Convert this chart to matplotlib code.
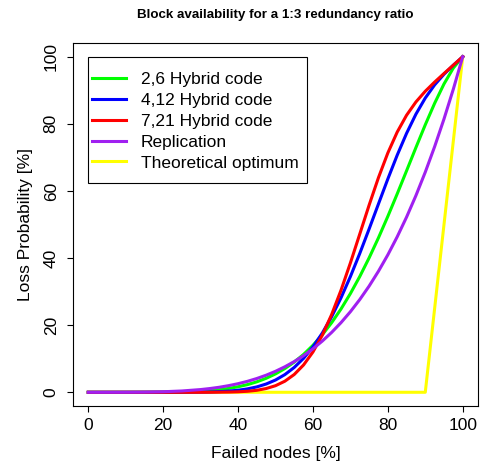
import matplotlib
matplotlib.use("Agg")
import matplotlib.pyplot as plt
from matplotlib.patches import Rectangle
from matplotlib.lines import Line2D

plt.rcParams['font.family'] = ['Liberation Sans', 'DejaVu Sans']

# failed nodes [%]
failed = [0, 5, 10, 15, 20, 25, 30, 32.5, 35, 37.5, 40, 42.5, 45, 47.5, 50,
          52.5, 55, 57.5, 60, 62.5, 65, 67.5, 70, 72.5, 75, 77.5, 80, 82.5,
          85, 87.5, 90, 92.5, 95, 97.5, 100]

# loss probability [%]
hybrid_2_6 = [0, 0, 0, 0.01, 0.03, 0.12, 0.33, 0.52, 0.78, 1.15, 1.64, 2.28,
              3.11, 4.16, 5.47, 7.07, 9.00, 11.29, 14.00, 17.14, 20.74, 24.83,
              29.41, 34.49, 40.05, 46.04, 52.43, 59.12, 66.00, 72.93, 79.72,
              86.13, 91.89, 96.65, 100]
hybrid_4_12 = [0, 0, 0, 0, 0, 0.01, 0.05, 0.10, 0.20, 0.35, 0.61, 1.01, 1.60,
               2.46, 3.65, 5.27, 7.40, 10.12, 13.52, 17.65, 22.53, 28.16,
               34.48, 41.36, 48.66, 56.14, 63.57, 70.66, 77.16, 82.88, 87.69,
               91.61, 94.79, 97.48, 100]
hybrid_7_21 = [0, 0, 0, 0, 0, 0, 0, 0.01, 0.03, 0.06, 0.14, 0.30, 0.59, 1.11,
               1.96, 3.30, 5.30, 8.15, 12.01, 17.02, 23.19, 30.43, 38.54,
               47.14, 55.77, 63.98, 71.32, 77.54, 82.56, 86.52, 89.71, 92.45,
               95.00, 97.50, 100]
replication = [0, 0, 0.01, 0.05, 0.16, 0.39, 0.81, 1.12, 1.50, 1.98, 2.56,
               3.26, 4.10, 5.09, 6.25, 7.60, 9.15, 10.93, 12.96, 15.26, 17.85,
               20.76, 24.01, 27.63, 31.64, 36.08, 40.96, 46.33, 52.20, 58.62,
               65.61, 73.21, 81.45, 90.37, 100]

optimum_x = [0, 90, 100]
optimum_y = [0, 0, 100]

fig = plt.figure(figsize=(4.85, 4.69), dpi=100)
ax = fig.add_axes([73.3 / 485, 1 - 405.7 / 469, 404.4 / 485, 362.4 / 469])

lw = 2.2
ax.plot(optimum_x, optimum_y, color='#FFFF00', lw=lw)
ax.plot(failed, hybrid_2_6, color='#00FF00', lw=lw)
ax.plot(failed, hybrid_4_12, color='#0000FF', lw=lw)
ax.plot(failed, hybrid_7_21, color='#FF0000', lw=lw)
ax.plot(failed, replication, color='#A020F0', lw=lw)

fs = 12.5
ax.set_xlim(-4, 104)
ax.set_ylim(-4, 104)
ax.set_xticks(range(0, 101, 20))
ax.set_yticks(range(0, 101, 20))
for s in ax.spines.values():
    s.set_linewidth(0.8)
ax.tick_params(length=4.5, width=0.8, labelsize=fs, pad=4)
ax.tick_params(axis='y', labelrotation=90, pad=6)
for t in ax.get_yticklabels():
    t.set_va('center')

ax.set_xlabel('Failed nodes [%]', fontsize=fs, labelpad=10)
ax.set_ylabel('Loss Probability [%]', fontsize=fs, labelpad=8)
fig.text(0.5 * (73.3 + 477.7) / 485, 1 - 15 / 469,
         'Block availability for a 1:3 redundancy ratio',
         ha='center', va='center', fontsize=9.6, fontweight='bold')

# legend box like R's legend(0, 100, ...)
ax.add_patch(Rectangle((0, 62.3), 58.4, 37.7, fill=False, ec='black',
                       lw=0.8, zorder=5))
labels = ['2,6 Hybrid code', '4,12 Hybrid code', '7,21 Hybrid code',
          'Replication', 'Theoretical optimum']
colors = ['#00FF00', '#0000FF', '#FF0000', '#A020F0', '#FFFF00']
handles = [Line2D([], [], color=c, lw=lw) for c in colors]
ax.legend(handles, labels, loc='upper left', bbox_to_anchor=(1.07, 95.5),
          bbox_transform=ax.transData, frameon=False, borderpad=0,
          borderaxespad=0, fontsize=fs, handlelength=1.95,
          handletextpad=0.85, labelspacing=0.33)

fig.savefig('out.png', dpi=100)
